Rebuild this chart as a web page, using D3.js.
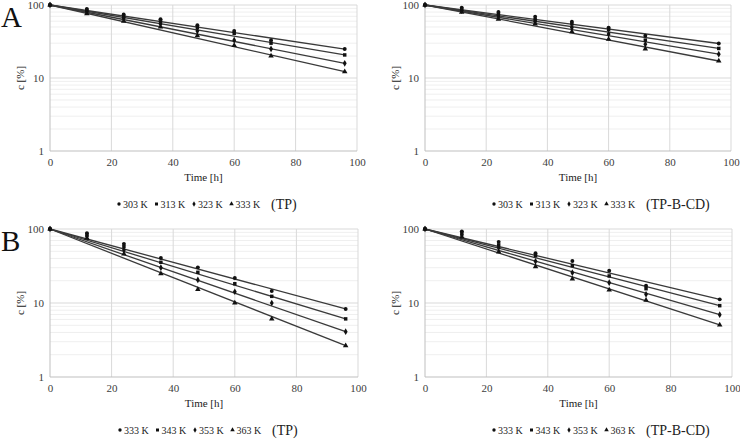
<!DOCTYPE html>
<html>
<head>
<meta charset="utf-8">
<script src="https://cdn.jsdelivr.net/npm/d3@7"></script>
<style>
  html, body { margin: 0; padding: 0; background: #fff; }
  svg, svg text { font-family: 'Liberation Serif', 'Times New Roman', Times, serif !important; }
</style>
</head>
<body>
<svg id="chart" width="740" height="442"></svg>
<script>
// ---- data ----
const times = [0, 12, 24, 36, 48, 60, 72, 96];
const xTicks = [0, 20, 40, 60, 80, 100];
const yTicks = [1, 10, 100];
const tempsA = ["303 K", "313 K", "323 K", "333 K"];
const tempsB = ["333 K", "343 K", "353 K", "363 K"];
const seriesTagA1 = "(TP)";
const seriesTagA2 = "(TP-B-CD)";

const valuesA_TP = [
  [100, 88, 74, 64, 53, 44, 33, 24.9],
  [100, 85, 70, 60, 49, 41, 30, 20.7],
  [100, 81, 66, 55, 44, 33, 25, 15.9],
  [100, 76, 60, 50, 38, 28, 20, 12.2]
];
const valuesA_TPBCD = [
  [100, 92, 80, 69, 59, 49, 38, 29.7],
  [100, 88, 75, 63, 55, 46, 33, 25.4],
  [100, 84, 70, 59, 49, 40, 29, 21.2],
  [100, 80, 64, 55, 43, 34, 25, 17.1]
];
const valuesB_TP = [
  [100, 88, 63, 40.5, 30.3, 21.8, 14.5, 8.3],
  [100, 84, 58, 35.5, 26, 18.2, 12.3, 6.1],
  [100, 80, 52, 30, 20.5, 14.2, 10, 4.1],
  [100, 75, 46, 24.9, 15.3, 10, 6.1, 2.65]
];
const valuesB_TPBCD = [
  [100, 93, 67, 47, 37, 27.3, 17.1, 11.2],
  [100, 88, 61, 43.6, 32, 23.2, 15.6, 9.2],
  [100, 83, 56, 36.6, 25.7, 18.8, 13.1, 6.95],
  [100, 78, 49, 31, 21.1, 15, 10.9, 5.05]
];

// ---- layout ----
const FONT = "'Liberation Serif', 'Times New Roman', Times, serif";
const svg = d3.select("#chart").attr("font-family", FONT);
const symbols = [d3.symbolCircle, d3.symbolSquare, d3.symbolDiamond, d3.symbolTriangle];
const symSizes = [12, 12, 13, 13];

const panels = [
  { x0: 50, x1: 357, yTop: 5, yBot: 151, values: valuesA_TP, temps: tempsA, tag: seriesTagA1, legX: 119, letter: "A" },
  { x0: 425, x1: 731, yTop: 5, yBot: 151, values: valuesA_TPBCD, temps: tempsA, tag: seriesTagA2, legX: 494 },
  { x0: 50, x1: 358, yTop: 229, yBot: 377, values: valuesB_TP, temps: tempsB, tag: seriesTagA1, legX: 120, letter: "B" },
  { x0: 425, x1: 732, yTop: 229, yBot: 377, values: valuesB_TPBCD, temps: tempsB, tag: seriesTagA2, legX: 494 }
];

panels.forEach(p => {
  const g = svg.append("g").attr("font-family", FONT);
  const x = d3.scaleLinear().domain([0, 100]).range([p.x0, p.x1]);
  const y = d3.scaleLog().domain([1, 100]).range([p.yBot, p.yTop]);

  // minor horizontal grid
  const minor = [];
  [1, 10].forEach(dec => { for (let m = 2; m <= 9; m++) minor.push(dec * m); });
  g.append("g").selectAll("line").data(minor).join("line")
    .attr("x1", p.x0).attr("x2", p.x1)
    .attr("y1", d => y(d)).attr("y2", d => y(d))
    .attr("stroke", "#efefef").attr("stroke-width", 1);

  // major horizontal grid
  g.append("g").selectAll("line").data(yTicks.slice(1)).join("line")
    .attr("x1", p.x0).attr("x2", p.x1)
    .attr("y1", d => y(d)).attr("y2", d => y(d))
    .attr("stroke", "#d9d9d9").attr("stroke-width", 1);

  // vertical grid
  g.append("g").selectAll("line").data(xTicks.slice(1)).join("line")
    .attr("x1", d => x(d)).attr("x2", d => x(d))
    .attr("y1", p.yTop).attr("y2", p.yBot)
    .attr("stroke", "#d9d9d9").attr("stroke-width", 1);

  // axes lines
  g.append("line").attr("x1", p.x0).attr("x2", p.x1).attr("y1", p.yBot).attr("y2", p.yBot)
    .attr("stroke", "#bfbfbf");
  g.append("line").attr("x1", p.x0).attr("x2", p.x0).attr("y1", p.yTop).attr("y2", p.yBot)
    .attr("stroke", "#bfbfbf");

  // axes via d3
  const xAxis = d3.axisBottom(x).tickValues(xTicks).tickSize(0).tickPadding(7).tickFormat(d3.format("d"));
  const xg = g.append("g").attr("transform", `translate(0,${p.yBot})`).call(xAxis);
  xg.attr("font-family", FONT);
  xg.select(".domain").remove();
  xg.selectAll("text").attr("font-size", 11).attr("fill", "#404040");

  const yAxis = d3.axisLeft(y).tickValues(yTicks).tickSize(0).tickPadding(6).tickFormat(d3.format("d"));
  const yg = g.append("g").attr("transform", `translate(${p.x0},0)`).call(yAxis);
  yg.attr("font-family", FONT);
  yg.select(".domain").remove();
  yg.selectAll("text").attr("font-size", 11).attr("fill", "#404040");

  // axis titles
  g.append("text").attr("x", (p.x0 + p.x1) / 2).attr("y", p.yBot + 30)
    .attr("text-anchor", "middle").attr("font-size", 11).attr("fill", "#222")
    .text("Time [h]");
  g.append("text")
    .attr("transform", `translate(${p.x0 - 26},${(p.yTop + p.yBot) / 2}) rotate(-90)`)
    .attr("text-anchor", "middle").attr("font-size", 11).attr("fill", "#222")
    .text("c [%]");

  // fit lines and markers
  const line = d3.line().x(d => x(d[0])).y(d => y(d[1]));
  p.values.forEach((vals, i) => {
    const n = vals.length - 1;
    g.append("path")
      .datum([[times[0], vals[0]], [times[n], vals[n]]])
      .attr("d", line).attr("fill", "none")
      .attr("stroke", "#3a3a3a").attr("stroke-width", 1.3);
  });
  p.values.forEach((vals, i) => {
    g.append("g").selectAll("path").data(vals).join("path")
      .attr("transform", (d, j) => `translate(${x(times[j])},${y(d)})`)
      .attr("d", d3.symbol().type(symbols[i]).size(symSizes[i]))
      .attr("fill", "#111");
  });

  // legend
  const legY = p.yBot + 54;
  const step = 37.5;
  p.temps.forEach((t, i) => {
    const lx = p.legX + i * step;
    g.append("path").attr("transform", `translate(${lx},${legY - 1})`)
      .attr("d", d3.symbol().type(symbols[i]).size(9)).attr("fill", "#111");
    g.append("text").attr("x", lx + 4).attr("y", legY + 3)
      .attr("font-size", 10).attr("fill", "#222").text(t);
  });
  g.append("text").attr("x", p.legX + 4 * step + 2).attr("y", legY + 4)
    .attr("font-size", 14).attr("fill", "#222").text(p.tag);

  if (p.letter) {
    svg.append("text").attr("x", 1).attr("y", p.yTop + 22)
      .attr("font-size", 29).attr("fill", "#111").text(p.letter);
  }
});
</script>
</body>
</html>
